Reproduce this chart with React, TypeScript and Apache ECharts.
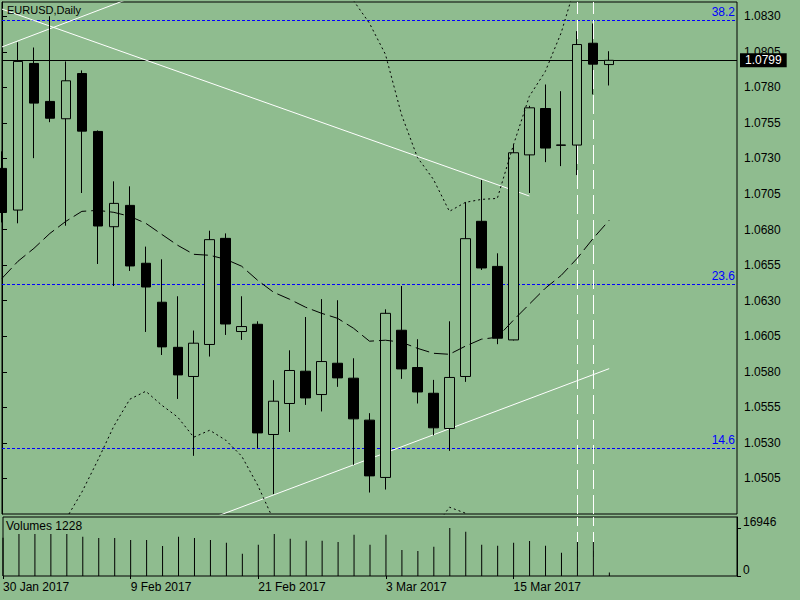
import React, { useEffect, useRef } from "react";
import * as echarts from "echarts";

const BG = "#8FBC8F";
const FONT = "'Liberation Sans', Arial, sans-serif";

const dates = [
  "30 Jan 2017", "31 Jan 2017", "1 Feb 2017", "2 Feb 2017", "3 Feb 2017",
  "6 Feb 2017", "7 Feb 2017", "8 Feb 2017", "9 Feb 2017", "10 Feb 2017",
  "13 Feb 2017", "14 Feb 2017", "15 Feb 2017", "16 Feb 2017", "17 Feb 2017",
  "20 Feb 2017", "21 Feb 2017", "22 Feb 2017", "23 Feb 2017", "24 Feb 2017",
  "27 Feb 2017", "28 Feb 2017", "1 Mar 2017", "2 Mar 2017", "3 Mar 2017",
  "6 Mar 2017", "7 Mar 2017", "8 Mar 2017", "9 Mar 2017", "10 Mar 2017",
  "13 Mar 2017", "14 Mar 2017", "15 Mar 2017", "16 Mar 2017", "17 Mar 2017",
  "20 Mar 2017", "21 Mar 2017", "22 Mar 2017", "23 Mar 2017",
];
const futureDates = [
  "24 Mar 2017", "27 Mar 2017", "28 Mar 2017", "29 Mar 2017",
  "30 Mar 2017", "31 Mar 2017", "3 Apr 2017", "4 Apr 2017",
];

const opens = [
  1.0723, 1.06937, 1.07968, 1.07701, 1.07579, 1.07897, 1.0749, 1.0682, 1.0697, 1.06563,
  1.06289, 1.05972, 1.05767, 1.05992, 1.06738, 1.06083, 1.06134, 1.05359, 1.05577, 1.05804,
  1.0564, 1.0586, 1.05755, 1.0546, 1.05057, 1.06092, 1.0583, 1.05649, 1.05401, 1.05767,
  1.06858, 1.06541, 1.06024, 1.07325, 1.07651, 1.07392, 1.07394, 1.0811, 1.0796,
];
const closes = [
  1.0692, 1.07982, 1.07689, 1.07583, 1.07846, 1.07492, 1.06825, 1.06984, 1.06544, 1.06396,
  1.05975, 1.05778, 1.06001, 1.06729, 1.06136, 1.06118, 1.0537, 1.05593, 1.05809, 1.05616,
  1.05872, 1.05757, 1.05469, 1.05068, 1.06211, 1.0582, 1.05658, 1.05406, 1.0576, 1.06736,
  1.0653, 1.06036, 1.0734, 1.07656, 1.07373, 1.07395, 1.08101, 1.07963, 1.0799,
];
const lows = [
  1.0685, 1.06844, 1.07302, 1.07555, 1.06827, 1.07057, 1.06558, 1.06403, 1.06509, 1.0608,
  1.05918, 1.05609, 1.05209, 1.05907, 1.06059, 1.06024, 1.05261, 1.0494, 1.05377, 1.05567,
  1.05521, 1.05694, 1.05146, 1.04951, 1.04972, 1.0575, 1.05577, 1.05354, 1.05244, 1.05729,
  1.06516, 1.05994, 1.0602, 1.07057, 1.07274, 1.07246, 1.07183, 1.0775, 1.07813,
];
const highs = [
  1.0735, 1.08117, 1.0808, 1.083, 1.07982, 1.07919, 1.07497, 1.07139, 1.07104, 1.0668,
  1.06591, 1.06331, 1.0609, 1.06792, 1.06773, 1.06331, 1.06155, 1.05741, 1.05951, 1.06185,
  1.06311, 1.06303, 1.05895, 1.05509, 1.06239, 1.06403, 1.06029, 1.05743, 1.06155, 1.06993,
  1.07148, 1.06633, 1.07396, 1.0767, 1.0782, 1.07773, 1.08195, 1.08249, 1.08054,
];

const volumes = [
  13500, 14828, 14828, 14828, 14828, 13886, 13416, 13416, 12710, 12710,
  10591, 13886, 13416, 12710, 11768, 7885, 11062, 14828, 13180, 12474,
  12474, 12003, 14593, 11062, 14593, 9179, 8826, 10356, 16946, 15652,
  11062, 10709, 11768, 12357, 10709, 8238, 12003, 12003, 1228,
];

const bbMiddle = [
  1.06457, 1.06577, 1.06668, 1.06773, 1.06858, 1.06928, 1.06935, 1.06921, 1.06893, 1.06844,
  1.06766, 1.06689, 1.06626, 1.06619, 1.06591, 1.06542, 1.06443, 1.06359, 1.0631, 1.06254,
  1.06211, 1.06176, 1.06106, 1.06015, 1.06022, 1.06008, 1.05965, 1.0593, 1.05923, 1.0598,
  1.06029, 1.06043, 1.06162, 1.06275, 1.06387, 1.06478, 1.06598, 1.06738, 1.06865,
];
const bbUpper = [
  1.088, 1.0886, 1.089, 1.0893, 1.0895, 1.0893, 1.089, 1.0886, 1.0882, 1.0879,
  1.0876, 1.0873, 1.087, 1.0868, 1.0866, 1.0864, 1.0863, 1.0862, 1.086, 1.0858,
  1.0856, 1.0853, 1.0841, 1.0825, 1.08031, 1.07609, 1.07307, 1.07153, 1.06928, 1.06991,
  1.07012, 1.07019, 1.07392, 1.07736, 1.07911, 1.08185, 1.0856, 1.0877, 1.0891,
];
const bbLower = [
  1.0406, 1.0427, 1.0445, 1.04588, 1.04764, 1.04954, 1.05179, 1.05418, 1.05607, 1.05663,
  1.05565, 1.05481, 1.0534, 1.05389, 1.05319, 1.05207, 1.05003, 1.04757, 1.04483, 1.04272,
  1.04132, 1.0406, 1.0406, 1.0413, 1.0427, 1.0441, 1.0455, 1.0469, 1.04848, 1.04806,
  1.0462, 1.0448, 1.042, 1.0392, 1.0364, 1.035, 1.0336, 1.0329, 1.0322,
];

const fibNames = ["38.2", "23.6", "14.6"];
const fibValues = [1.08275, 1.06417, 1.05265];

const bidPrice = 1.0799;
const vLineIndexes = [36, 37];

const trendLines = [
  [[0, 1.0835], [33, 1.07036]],
  [[0, 1.08084], [10, 1.08511]],
  [[13, 1.04765], [38, 1.05822]],
];

const priceMin = 1.048;
const priceMax = 1.084;
const priceStep = 0.0025;
const volumeTop = 16946;
const dateLabelEvery = 8;
const lastLabelIndex = 32;

function App() {
  const ref = useRef<HTMLDivElement>(null);

  useEffect(() => {
    if (!ref.current) return;
    const chart = echarts.init(ref.current, undefined, { renderer: "svg" });
    const cats = dates.concat(futureDates);
    const candleData = opens.map((o, i) => [o, closes[i], lows[i], highs[i]]);
    const labelInterval = (index: number) =>
      index % dateLabelEvery === 0 && index <= lastLabelIndex;
    const volAxisMax = (volumeTop * 59) / 48;
    const txt = { fontFamily: FONT, color: "#000", fontSize: 12 };

    const option: any = {
      animation: false,
      backgroundColor: BG,
      textStyle: { fontFamily: FONT },
      title: [
        {
          text: "EURUSD,Daily",
          left: 7,
          top: 4,
          padding: 0,
          textStyle: { ...txt, fontSize: 11, fontWeight: "normal" },
        },
        {
          text: "Volumes " + volumes[volumes.length - 1],
          left: 6,
          top: 520,
          padding: 0,
          textStyle: { ...txt, fontWeight: "normal" },
        },
      ],
      grid: [
        { left: 2, top: 2, width: 735, height: 512, show: true, borderColor: "#000", borderWidth: 1, backgroundColor: "transparent" },
        { left: 2, top: 517, width: 735, height: 59, show: true, borderColor: "#000", borderWidth: 1, backgroundColor: "transparent" },
      ],
      xAxis: [
        {
          type: "category", gridIndex: 0, data: cats, boundaryGap: false,
          axisLine: { show: false }, axisTick: { show: false }, axisLabel: { show: false }, splitLine: { show: false },
        },
        {
          type: "category", gridIndex: 1, data: cats, boundaryGap: false,
          axisLine: { show: false },
          axisTick: { show: true, length: 3, interval: labelInterval, lineStyle: { color: "#000" } },
          axisLabel: { show: true, interval: labelInterval, align: "left", margin: 5, ...txt },
          splitLine: { show: false },
        },
        { type: "value", gridIndex: 0, min: 0, max: cats.length - 1, show: false },
      ],
      yAxis: [
        {
          type: "value", gridIndex: 0, position: "right", min: priceMin, max: priceMax, interval: priceStep,
          axisLine: { show: true, lineStyle: { color: "#000" } },
          axisTick: { show: true, length: 5, lineStyle: { color: "#000" } },
          axisLabel: {
            formatter: (v: number) => v.toFixed(4), showMinLabel: false, showMaxLabel: false, margin: 7, ...txt,
          },
          splitLine: { show: false },
        },
        {
          type: "value", gridIndex: 1, position: "right", min: 0, max: volAxisMax, interval: volumeTop,
          axisLine: { show: true, lineStyle: { color: "#000" } },
          axisTick: { show: true, length: 4, lineStyle: { color: "#000" } },
          axisLabel: {
            formatter: (v: number) => String(Math.round(v)),
            showMaxLabel: false, verticalAlign: "bottom", margin: 6, ...txt,
          },
          splitLine: { show: false },
        },
      ],
      series: [
        ...trendLines.map((tl) => ({
          type: "line", xAxisIndex: 2, yAxisIndex: 0, data: tl, symbol: "none", z: 1, silent: true,
          lineStyle: { color: "#fff", width: 1 },
        })),
        {
          type: "line", name: "fibo", xAxisIndex: 0, yAxisIndex: 0, data: [], z: 1, silent: true,
          markLine: {
            z: 1, silent: true, symbol: ["none", "none"], animation: false, precision: 6,
            lineStyle: { color: "#0000FF", type: [3, 2], width: 1 },
            label: { show: true, position: "insideEndTop", formatter: "{b}", color: "#0000FF", fontSize: 12, fontFamily: FONT, distance: 2 },
            data: fibNames.map((n, i) => ({ name: n, yAxis: fibValues[i] })),
          },
        },
        {
          type: "line", name: "bid", xAxisIndex: 0, yAxisIndex: 0, data: [], z: 1, silent: true,
          markLine: {
            z: 1, silent: true, symbol: ["none", "none"], animation: false, precision: 6,
            lineStyle: { color: "#000", type: "solid", width: 1 },
            label: {
              show: true, position: "end", formatter: () => bidPrice.toFixed(4),
              backgroundColor: "#000", color: "#fff", padding: [1, 5, 1, 5], fontSize: 12, fontFamily: FONT, distance: 3,
            },
            data: [{ yAxis: bidPrice }],
          },
        },
        {
          type: "line", name: "vlines", xAxisIndex: 0, yAxisIndex: 0, data: [], z: 1, silent: true,
          markLine: {
            z: 1, silent: true, symbol: ["none", "none"], animation: false,
            lineStyle: { color: "#fff", type: [19, 6], width: 1 },
            label: { show: false },
            data: vLineIndexes.map((i) => ({ xAxis: cats[i] })),
          },
        },
        {
          type: "line", name: "vlines2", xAxisIndex: 1, yAxisIndex: 1, data: [], z: 1, silent: true,
          markLine: {
            z: 1, silent: true, symbol: ["none", "none"], animation: false,
            lineStyle: { color: "#fff", type: [19, 6], width: 1 },
            label: { show: false },
            data: vLineIndexes.map((i) => ({ xAxis: cats[i] })),
          },
        },
        {
          type: "candlestick", name: "EURUSD", xAxisIndex: 0, yAxisIndex: 0, data: candleData,
          barWidth: 10, z: 3, clip: true,
          itemStyle: { color: BG, color0: "#000", borderColor: "#000", borderColor0: "#000", borderWidth: 1 },
        },
        {
          type: "bar", name: "Volumes", xAxisIndex: 1, yAxisIndex: 1, data: volumes, barWidth: 1, z: 3,
          itemStyle: { color: "#000" },
        },
        {
          type: "line", name: "BB mid", xAxisIndex: 0, yAxisIndex: 0, data: bbMiddle, symbol: "none", z: 4, silent: true,
          lineStyle: { color: "#000", width: 1, type: [14, 5] },
        },
        {
          type: "line", name: "BB up", xAxisIndex: 0, yAxisIndex: 0, data: bbUpper, symbol: "none", z: 4, silent: true,
          lineStyle: { color: "#000", width: 1, type: [2, 3] },
        },
        {
          type: "line", name: "BB low", xAxisIndex: 0, yAxisIndex: 0, data: bbLower, symbol: "none", z: 4, silent: true,
          lineStyle: { color: "#000", width: 1, type: [2, 3] },
        },
      ],
    };
    chart.setOption(option);
    return () => chart.dispose();
  }, []);

  return (
    <div
      ref={ref}
      style={{ position: "fixed", left: 0, top: 0, width: 800, height: 600, background: BG }}
    />
  );
}

export default App;
